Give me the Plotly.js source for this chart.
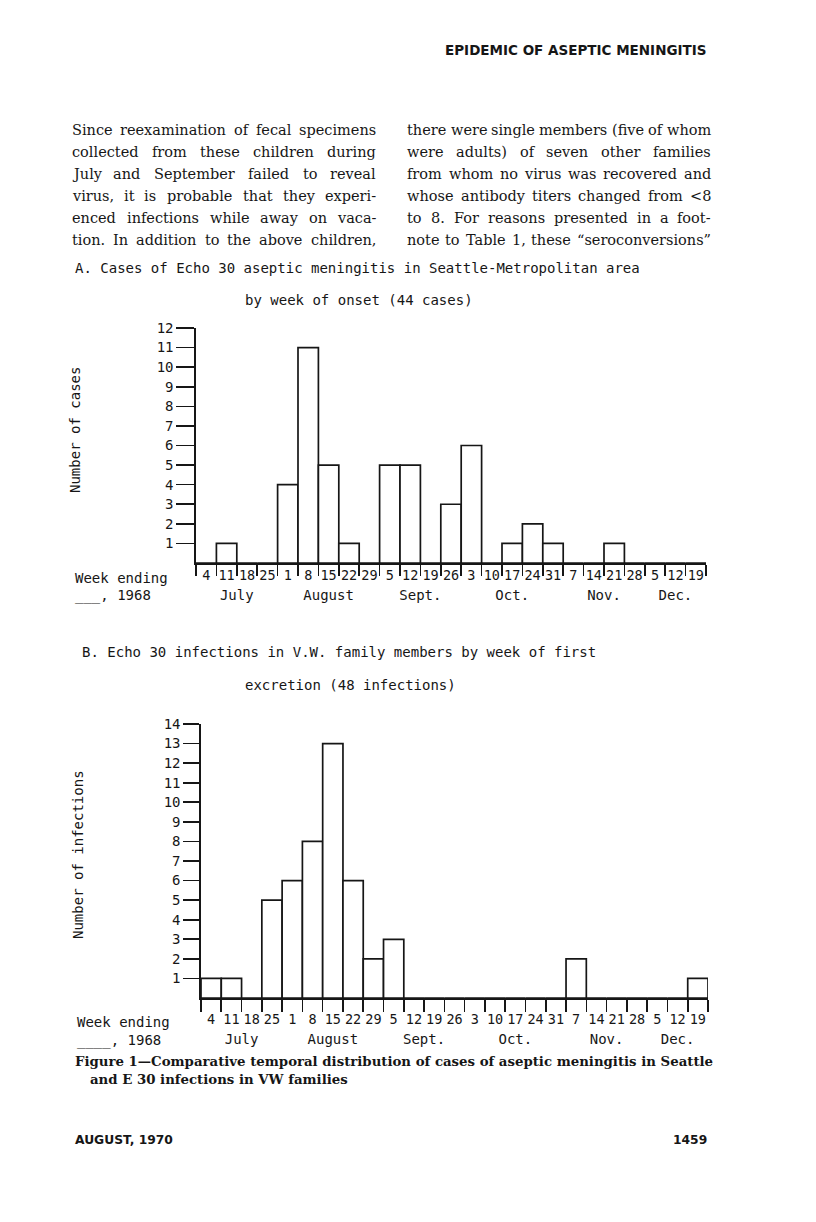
<!DOCTYPE html>
<html>
<head>
<meta charset="utf-8">
<script src="https://cdn.plot.ly/plotly-3.0.1.min.js"></script>
<style>
  html, body { margin: 0; padding: 0; background: #fff; }
  #fig { width: 816px; height: 1222px; }
</style>
</head>
<body>
<div id="fig"></div>
<script>
// week-ending day numbers, July 4 through Dec 19, 1968
const weekDays = [4, 11, 18, 25, 1, 8, 15, 22, 29, 5, 12, 19, 26, 3, 10, 17, 24, 31, 7, 14, 21, 28, 5, 12, 19];
const monthNames = ['July', 'August', 'Sept.', 'Oct.', 'Nov.', 'Dec.'];
const monthWeeks = [4, 5, 4, 5, 4, 3];

// A. meningitis cases by week of onset
const casesA = [0, 1, 0, 0, 4, 11, 5, 1, 0, 5, 5, 0, 3, 6, 0, 1, 2, 1, 0, 0, 1, 0, 0, 0, 0];
// B. infections in V.W. family members by week of first excretion
const infectionsB = [1, 1, 0, 5, 6, 8, 13, 6, 2, 3, 0, 0, 0, 0, 0, 0, 0, 0, 2, 0, 0, 0, 0, 0, 1];

const W = 816, H = 1222;
const px = x => x / W;
const py = y => 1 - y / H;

const ink = '#161616';
const mono = 'DejaVu Sans Mono, Liberation Mono, monospace';
const serif = 'DejaVu Serif, Liberation Serif, serif';
const sans = 'DejaVu Sans, Liberation Sans, sans-serif';

const idx = weekDays.map((d, i) => i);
const edges = weekDays.map((d, i) => i - 0.5).concat([weekDays.length - 0.5]);

let monthCenters = [];
let start = 0;
monthWeeks.forEach(n => {
  monthCenters.push(start + (n - 1) / 2);
  start += n;
});

function bars(values, xa, ya) {
  return {
    type: 'bar', x: idx, y: values, width: 1,
    xaxis: xa, yaxis: ya,
    marker: { color: '#fff', line: { color: ink, width: 1.7 } },
    hoverinfo: 'skip'
  };
}

function ghost(values, xa, ya) {
  return {
    type: 'scatter', mode: 'markers', x: idx, y: values,
    xaxis: xa, yaxis: ya,
    marker: { size: 1, color: 'rgba(0,0,0,0)' },
    hoverinfo: 'skip'
  };
}

let traces = [
  bars(casesA, 'x', 'y'),
  ghost(casesA, 'x3', 'y'),
  ghost(casesA, 'x5', 'y'),
  bars(infectionsB, 'x2', 'y2'),
  ghost(infectionsB, 'x4', 'y2'),
  ghost(infectionsB, 'x6', 'y2')
];

function edgeAxis(domain, anchor, ticklen) {
  return {
    domain: domain, anchor: anchor,
    range: [-0.5, weekDays.length - 0.5],
    tickmode: 'array', tickvals: edges, ticktext: edges.map(() => ''),
    ticks: 'outside', ticklen: ticklen, tickwidth: 1.6, tickcolor: ink,
    showline: true, linecolor: ink, linewidth: 1.7,
    showgrid: false, zeroline: false, fixedrange: true
  };
}

function labelAxis(domain, anchor, over, vals, text, standoff, size) {
  return {
    domain: domain, anchor: anchor, overlaying: over,
    range: [-0.5, weekDays.length - 0.5],
    tickmode: 'array', tickvals: vals, ticktext: text,
    ticks: 'outside', ticklen: standoff, tickcolor: 'rgba(0,0,0,0)',
    tickfont: { family: mono, size: size, color: ink },
    showline: false, showgrid: false, zeroline: false, fixedrange: true
  };
}

function countAxis(domain, anchor, maxVal, ticklen) {
  let vals = [];
  for (let v = 1; v <= maxVal; v++) vals.push(v);
  return {
    domain: domain, anchor: anchor, range: [0, maxVal],
    tickmode: 'array', tickvals: vals,
    ticks: 'outside', ticklen: ticklen, tickwidth: 1.6, tickcolor: ink,
    tickfont: { family: mono, size: 14, color: ink },
    showline: true, linecolor: ink, linewidth: 1.7,
    showgrid: false, zeroline: false, fixedrange: true
  };
}

const domA = [px(196), px(706)];
const domB = [px(201), px(708)];

function note(text, x, y, opts) {
  return Object.assign({
    text: text, xref: 'paper', yref: 'paper', x: px(x), y: py(y),
    xanchor: 'left', yanchor: 'middle', showarrow: false,
    font: { family: mono, size: 14, color: ink }
  }, opts || {});
}

const leftCol = [
  'Since reexamination of fecal specimens',
  'collected from these children during',
  'July and September failed to reveal',
  'virus, it is probable that they experi-',
  'enced infections while away on vaca-',
  'tion. In addition to the above children,'
];
const rightCol = [
  'there were single members (five of whom',
  'were adults) of seven other families',
  'from whom no virus was recovered and',
  'whose antibody titers changed from <8',
  'to 8. For reasons presented in a foot-',
  'note to Table 1, these \u201cseroconversions\u201d'
];

let annotations = [];

// justified body text: spread words of each line across the column
const bodySize = 14.5;
const bodyFont = { family: serif, size: bodySize, color: ink };
const ctx = document.createElement('canvas').getContext('2d');
ctx.font = bodySize + "px 'DejaVu Serif'";

function justify(lines, x0, x1, y0) {
  lines.forEach((line, i) => {
    const words = line.split(' ');
    const widths = words.map(w => ctx.measureText(w).width);
    const total = widths.reduce((s, v) => s + v, 0);
    const gap = (x1 - x0 - total) / (words.length - 1);
    let x = x0;
    words.forEach((w, j) => {
      annotations.push(note(w.replace('<', '&lt;'), x, y0 + 22 * i,
        { font: bodyFont, borderpad: 0 }));
      x += widths[j] + gap;
    });
  });
}

annotations.push(note('EPIDEMIC OF ASEPTIC MENINGITIS', 709, 50,
  { xanchor: 'right', font: { family: sans, size: 13.5, color: ink, weight: 'bold' } }));

justify(leftCol, 71, 375, 130);
justify(rightCol, 406, 710, 130);

// chart A texts
annotations.push(note('A. Cases of Echo 30 aseptic meningitis in Seattle-Metropolitan area', 73, 268));
annotations.push(note('by week of onset (44 cases)', 243, 300));
annotations.push(note('Number of cases', 75, 430, { xanchor: 'center', textangle: -90 }));
annotations.push(note('Week ending', 73, 578));
annotations.push(note('___, 1968', 73, 595));

// chart B texts
annotations.push(note('B. Echo 30 infections in V.W. family members by week of first', 80, 652));
annotations.push(note('excretion (48 infections)', 243, 685));
annotations.push(note('Number of infections', 78, 855, { xanchor: 'center', textangle: -90 }));
annotations.push(note('Week ending', 75, 1022));
annotations.push(note('____, 1968', 75, 1040));

// caption and footer
const capFont = { family: serif, size: 13.3, color: ink, weight: 'bold' };
annotations.push(note('Figure 1\u2014Comparative temporal distribution of cases of aseptic meningitis in Seattle', 73, 1061, { font: capFont }));
annotations.push(note('and E 30 infections in VW families', 88, 1079, { font: capFont }));

const footFont = { family: sans, size: 12.3, color: ink, weight: 'bold' };
annotations.push(note('AUGUST, 1970', 73, 1140, { font: footFont }));
annotations.push(note('1459', 709, 1140, { xanchor: 'right', font: footFont }));

let layout = {
  width: W, height: H,
  margin: { l: 0, r: 0, t: 0, b: 0, pad: 0 },
  paper_bgcolor: '#fff', plot_bgcolor: 'rgba(0,0,0,0)',
  showlegend: false, bargap: 0,
  font: { family: mono, color: ink },
  xaxis: edgeAxis(domA, 'y', 11),
  xaxis3: labelAxis(domA, 'y', 'x', idx, weekDays.map(String), 0, 13.5),
  xaxis5: labelAxis(domA, 'y', 'x', monthCenters, monthNames, 19, 14),
  yaxis: countAxis([py(563), py(328)], 'x', 12, 18),
  xaxis2: edgeAxis(domB, 'y2', 12),
  xaxis4: labelAxis(domB, 'y2', 'x2', idx, weekDays.map(String), 9, 13.5),
  xaxis6: labelAxis(domB, 'y2', 'x2', monthCenters, monthNames, 28, 14),
  yaxis2: countAxis([py(998), py(724)], 'x2', 14, 16),
  annotations: annotations
};

Plotly.newPlot('fig', traces, layout, { staticPlot: true, displayModeBar: false });
</script>
</body>
</html>
